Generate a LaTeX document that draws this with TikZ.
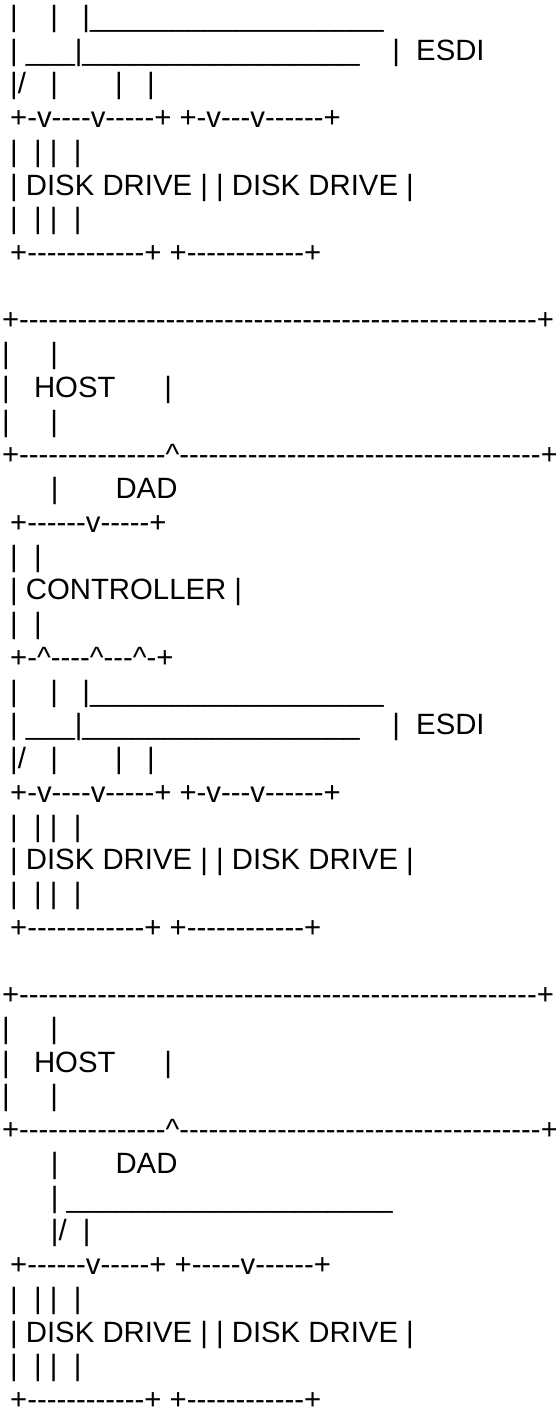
\documentclass[tikz,border=0pt]{standalone}
\usepackage{fontspec}
\newfontfamily\asc{Liberation Sans}[Ligatures=TeXOff]
\ExplSyntaxOn
\cs_new_eq:NN \Rep \prg_replicate:nn
\ExplSyntaxOff
\newcommand\US{\_}
\newcommand\CI{\textasciicircum}
\tikzset{
  txt/.style={anchor=base west, inner sep=0pt, outer sep=0pt,
    font=\asc\fontsize{29.33}{33.74}\selectfont, text=black}
}
\newcommand\Ln[2]{\node[txt] (l#1) at (2,{-(26.3+33.74*#1)}) {#2};}
\begin{document}
\begin{tikzpicture}[x=1pt,y=1pt]
\fill[white] (0,0) rectangle (556,-1410);
\useasboundingbox (0,0) rectangle (556,-1410);
% section 1
\Ln{0}{~|~~~~|~~~|\Rep{18}{\US}}
\Ln{1}{~|~\Rep{3}{\US}|\Rep{17}{\US}~~~~|~~ESDI}
\Ln{2}{~|/~~~|~~~~~~~|~~~|}
\Ln{3}{~+-v----v-----+~+-v---v------+}
\Ln{4}{~|~~|~|~~|}
\Ln{5}{~|~DISK~DRIVE~|~|~DISK~DRIVE~|}
\Ln{6}{~|~~|~|~~|}
\Ln{7}{~+\Rep{12}{-}+~+\Rep{12}{-}+}
% section 2
\Ln{9}{+\Rep{53}{-}+}
\Ln{10}{|~~~~~|}
\Ln{11}{|~~~HOST~~~~~~|}
\Ln{12}{|~~~~~|}
\Ln{13}{+\Rep{15}{-}\CI\Rep{37}{-}+}
\Ln{14}{~~~~~~|~~~~~~~DAD}
\Ln{15}{~+------v-----+}
\Ln{16}{~|~~|}
\Ln{17}{~|~CONTROLLER~|}
\Ln{18}{~|~~|}
\Ln{19}{~+-\CI----\CI---\CI-+}
\Ln{20}{~|~~~~|~~~|\Rep{18}{\US}}
\Ln{21}{~|~\Rep{3}{\US}|\Rep{17}{\US}~~~~|~~ESDI}
\Ln{22}{~|/~~~|~~~~~~~|~~~|}
\Ln{23}{~+-v----v-----+~+-v---v------+}
\Ln{24}{~|~~|~|~~|}
\Ln{25}{~|~DISK~DRIVE~|~|~DISK~DRIVE~|}
\Ln{26}{~|~~|~|~~|}
\Ln{27}{~+\Rep{12}{-}+~+\Rep{12}{-}+}
% section 3
\Ln{29}{+\Rep{53}{-}+}
\Ln{30}{|~~~~~|}
\Ln{31}{|~~~HOST~~~~~~|}
\Ln{32}{|~~~~~|}
\Ln{33}{+\Rep{15}{-}\CI\Rep{37}{-}+}
\Ln{34}{~~~~~~|~~~~~~~DAD}
\Ln{35}{~~~~~~|~\Rep{20}{\US}}
\Ln{36}{~~~~~~|/~~|}
\Ln{37}{~+------v-----+~+-----v------+}
\Ln{38}{~|~~|~|~~|}
\Ln{39}{~|~DISK~DRIVE~|~|~DISK~DRIVE~|}
\Ln{40}{~|~~|~|~~|}
\Ln{41}{~+\Rep{12}{-}+~+\Rep{12}{-}+}
\end{tikzpicture}
\end{document}
